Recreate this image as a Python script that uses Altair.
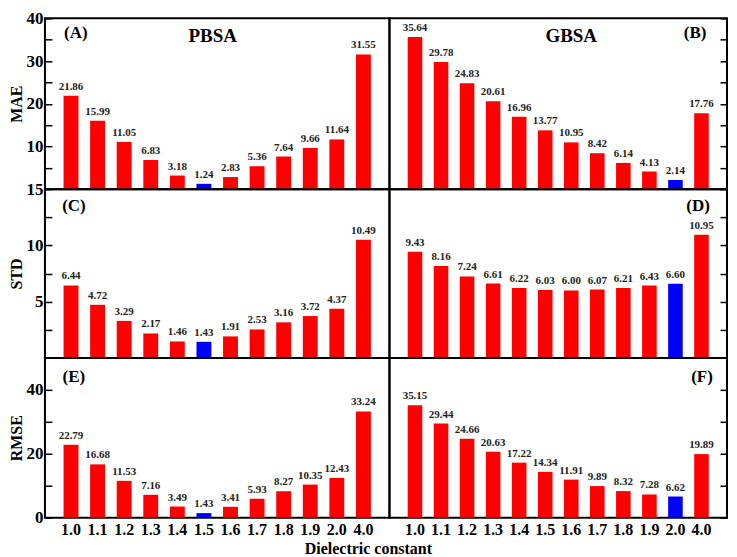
import altair as alt
import pandas as pd

eps = ["1.0", "1.1", "1.2", "1.3", "1.4", "1.5", "1.6", "1.7", "1.8", "1.9", "2.0", "4.0"]
pbsa_mae = [21.86, 15.99, 11.05, 6.83, 3.18, 1.24, 2.83, 5.36, 7.64, 9.66, 11.64, 31.55]
gbsa_mae = [35.64, 29.78, 24.83, 20.61, 16.96, 13.77, 10.95, 8.42, 6.14, 4.13, 2.14, 17.76]
pbsa_std = [6.44, 4.72, 3.29, 2.17, 1.46, 1.43, 1.91, 2.53, 3.16, 3.72, 4.37, 10.49]
gbsa_std = [9.43, 8.16, 7.24, 6.61, 6.22, 6.03, 6.00, 6.07, 6.21, 6.43, 6.60, 10.95]
pbsa_rmse = [22.79, 16.68, 11.53, 7.16, 3.49, 1.43, 3.41, 5.93, 8.27, 10.35, 12.43, 33.24]
gbsa_rmse = [35.15, 29.44, 24.66, 20.63, 17.22, 14.34, 11.91, 9.89, 8.32, 7.28, 6.62, 19.89]
best_eps = {"PBSA": "1.5", "GBSA": "2.0"}

mae_ticks = [5, 10, 15, 20, 25, 30, 35, 40]
std_ticks = [2.5, 5, 7.5, 10, 12.5, 15]
rmse_ticks = [0, 10, 20, 30, 40]

FONT = "Liberation Serif"
WL, WR = 345, 338
HEIGHTS = {"MAE": 171, "STD": 169, "RMSE": 160}


def panel(method, metric, values, ymax, ticks, mod, letter, lx, ly, show_x, title=None, tx=None):
    left = method == "PBSA"
    W = WL if left else WR
    H = HEIGHTS[metric]
    df = pd.DataFrame({
        "eps": eps,
        "value": values,
        "kind": ["best" if e == best_eps[method] else "other" for e in eps],
    })
    if show_x:
        xaxis = alt.Axis(labelAngle=0, ticks=False, domain=False, title=None,
                         labelFont=FONT, labelFontWeight="bold", labelFontSize=16,
                         labelPadding=4, labelColor="black")
    else:
        xaxis = None
    xenc = alt.X("eps:N", sort=eps, axis=xaxis,
                 scale=alt.Scale(paddingInner=0.44, paddingOuter=0.7))
    if left:
        yaxis = alt.Axis(orient="left", values=ticks, tickSize=7, offset=-7, domain=False,
                         labelExpr=f"datum.value % {mod} === 0 ? datum.label : ''",
                         labelOverlap=False, labelFont=FONT, labelFontWeight="bold",
                         labelFontSize=17, labelColor="black", labelPadding=2,
                         grid=False, tickColor="black", tickWidth=1.5,
                         title=metric, titleFont=FONT, titleFontWeight="bold",
                         titleFontSize=16, titleColor="black", titlePadding=1)
    else:
        yaxis = alt.Axis(orient="right", values=ticks, tickSize=7, offset=-7, domain=False,
                         labels=False, grid=False, tickColor="black", tickWidth=1.5,
                         title=None)
    yenc = alt.Y("value:Q", axis=yaxis,
                 scale=alt.Scale(domain=[0, ymax], nice=False, zero=True))
    base = alt.Chart(df)
    bars = base.mark_bar().encode(
        x=xenc, y=yenc,
        color=alt.Color("kind:N", legend=None,
                        scale=alt.Scale(domain=["other", "best"], range=["#ff0000", "#0000ff"])),
    )
    labels = base.mark_text(baseline="bottom", dy=-4, font=FONT, fontWeight="bold",
                            fontSize=11, color="#222222").encode(
        x=xenc, y=yenc, text=alt.Text("value:Q", format=".2f"))
    tag = alt.Chart(pd.DataFrame({"t": [letter]})).mark_text(
        font=FONT, fontWeight="bold", fontSize=17, color="black", align="center",
        baseline="middle").encode(
        text="t:N", x=alt.value(lx if lx >= 0 else W + lx), y=alt.value(ly))
    layers = [bars, labels, tag]
    if title:
        layers.append(alt.Chart(pd.DataFrame({"t": [title]})).mark_text(
            font=FONT, fontWeight="bold", fontSize=19, color="black", align="center",
            baseline="middle").encode(text="t:N", x=alt.value(tx), y=alt.value(18)))
    return alt.layer(*layers).properties(width=W, height=H)


A = panel("PBSA", "MAE", pbsa_mae, 40, mae_ticks, 10, "(A)", 31, 15, False, "PBSA", 168)
B = panel("GBSA", "MAE", gbsa_mae, 40, mae_ticks, 10, "(B)", -32, 15, False, "GBSA", 182)
C = panel("PBSA", "STD", pbsa_std, 15, std_ticks, 5, "(C)", 29, 17, False)
D = panel("GBSA", "STD", gbsa_std, 15, std_ticks, 5, "(D)", -29, 17, False)
E = panel("PBSA", "RMSE", pbsa_rmse, 50, rmse_ticks, 20, "(E)", 29, 19, True)
F = panel("GBSA", "RMSE", gbsa_rmse, 50, rmse_ticks, 20, "(F)", -25, 19, True)

chart = alt.concat(A, B, C, D, E, F, columns=2, spacing=0, bounds="flush", align="each").properties(
    title=alt.TitleParams("Dielectric constant", orient="bottom", anchor="middle",
                          font=FONT, fontWeight="bold", fontSize=16, color="black", offset=2),
    padding=0,
).configure_view(stroke="black", strokeWidth=2)

chart.save("out.html", embed_options={"renderer": "svg", "actions": False})
